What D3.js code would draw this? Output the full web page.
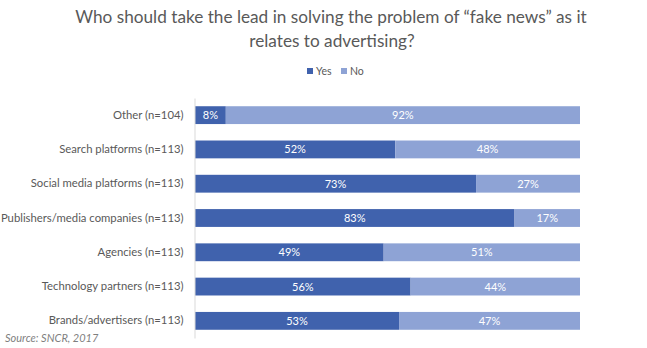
<!DOCTYPE html>
<html><head><meta charset="utf-8">
<script src="https://cdnjs.cloudflare.com/ajax/libs/d3/7.8.5/d3.min.js"></script>
<style>body{margin:0;background:#fff}svg{display:block}</style>
</head><body>
<script>
const categories = ["Other (n=104)","Search platforms (n=113)","Social media platforms (n=113)","Publishers/media companies (n=113)","Agencies (n=113)","Technology partners (n=113)","Brands/advertisers (n=113)"];
const yesValues = [8,52,73,83,49,56,53];
const noValues = [92,48,27,17,51,44,47];
const seriesNames = ["Yes","No"];
const colors = ["#4062ad","#8ea3d5"];

const W=647,H=348;
const svg=d3.select("body").append("svg").attr("width",W).attr("height",H);
const font="Lato, 'Open Sans', sans-serif";
const x=d3.scaleLinear().domain([0,100]).range([195,580]);
const y=d3.scaleBand().domain(categories).range([98,338]).paddingInner(0.48).paddingOuter(0.24);

function fitText(sel, width){
  const w=sel.node().getComputedTextLength();
  const fs=parseFloat(sel.attr("font-size"));
  sel.attr("font-size",fs*width/w);
}
const t1=svg.append("text").attr("x",331).attr("y",23).attr("text-anchor","middle").attr("font-family",font).attr("font-size",16).attr("fill","#595959").text("Who should take the lead in solving the problem of “fake news” as it");
fitText(t1,512);
const t2=svg.append("text").attr("x",332).attr("y",47).attr("text-anchor","middle").attr("font-family",font).attr("font-size",t1.attr("font-size")).attr("fill","#595959").text("relates to advertising?");

// legend
const leg=svg.append("g");
const lx=[307,341];
seriesNames.forEach((s,i)=>{
  leg.append("rect").attr("x",lx[i]).attr("y",68).attr("width",6).attr("height",6).attr("fill",colors[i]);
  leg.append("text").attr("x",lx[i]+9).attr("y",75).attr("font-family",font).attr("font-size",10.5).attr("fill","#595959").text(s);
});

const rows=categories.map((c,i)=>({c,yes:yesValues[i],no:noValues[i]}));
const g=svg.append("g");
rows.forEach(r=>{
  const segs=[{v0:0,v1:r.yes,col:colors[0]},{v0:r.yes,v1:r.yes+r.no,col:colors[1]}];
  segs.forEach(s=>{
    g.append("rect").attr("x",x(s.v0)).attr("y",y(r.c)).attr("width",x(s.v1)-x(s.v0)).attr("height",y.bandwidth()).attr("fill",s.col);
    g.append("text").attr("x",(x(s.v0)+x(s.v1))/2).attr("y",y(r.c)+y.bandwidth()/2+4).attr("text-anchor","middle")
     .attr("font-family",font).attr("font-size",11).attr("fill","#fff").text((s.v1-s.v0)+"%");
  });
});

const yAxis=svg.append("g").attr("transform","translate(194.5,0)").call(d3.axisLeft(y).tickSize(0).tickPadding(11));
yAxis.select(".domain").attr("stroke","#d9d9d9");
yAxis.selectAll("text").attr("font-family",font).attr("font-size",11.3).attr("fill","#595959");

svg.append("text").attr("x",5).attr("y",342).attr("font-family",font).attr("font-size",11).attr("font-style","italic").attr("fill","#7f7f7f").text("Source: SNCR, 2017");
</script>
</body></html>
